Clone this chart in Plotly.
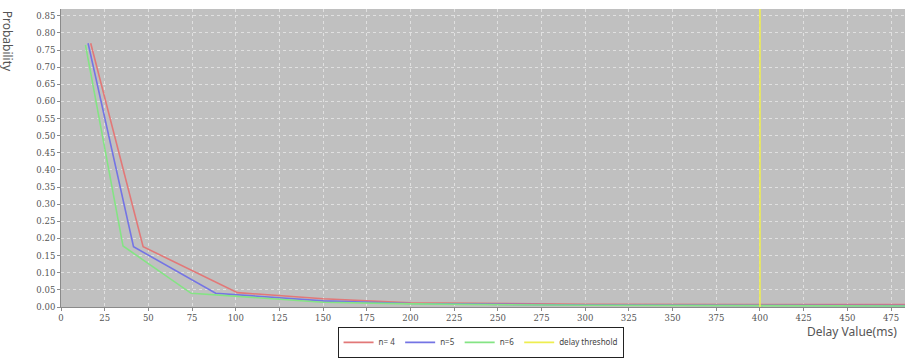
import plotly.graph_objects as go

# Delay values (ms) and probabilities for each group size n
delay_n4 = [17, 47, 101, 150, 200, 300, 483]
prob_n4 = [0.770, 0.176, 0.042, 0.024, 0.012, 0.008, 0.007]

delay_n5 = [15.5, 41.5, 88.5, 150, 200, 300, 483]
prob_n5 = [0.770, 0.176, 0.040, 0.018, 0.010, 0.006, 0.004]

delay_n6 = [14, 35.5, 74.5, 150, 200, 300, 483]
prob_n6 = [0.765, 0.178, 0.040, 0.014, 0.009, 0.005, 0.003]

threshold_x = [400, 400]
threshold_y = [0, 0.87]

series_names = ["n= 4", "n=5", "n=6", "delay threshold"]

x_ticks = list(range(0, 500, 25))
y_ticks = [round(i * 0.05, 2) for i in range(18)]

fig = go.Figure()
fig.add_trace(go.Scatter(x=delay_n4, y=prob_n4, mode="lines", name=series_names[0],
                         line=dict(color="#e27878", width=1.6)))
fig.add_trace(go.Scatter(x=delay_n5, y=prob_n5, mode="lines", name=series_names[1],
                         line=dict(color="#7474e4", width=1.6)))
fig.add_trace(go.Scatter(x=delay_n6, y=prob_n6, mode="lines", name=series_names[2],
                         line=dict(color="#84e484", width=1.6)))
fig.add_trace(go.Scatter(x=threshold_x, y=threshold_y, mode="lines", name=series_names[3],
                         line=dict(color="#eeee50", width=1.6)))

tick_font = dict(family="DejaVu Serif", size=8.5, color="#555555")

fig.update_layout(
    width=905, height=360,
    margin=dict(l=61, r=0, t=9, b=53, autoexpand=False),
    paper_bgcolor="white",
    plot_bgcolor="#c0c0c0",
    showlegend=True,
    legend=dict(
        orientation="h", xref="container", yref="container",
        x=0.531, xanchor="center", y=0.006, yanchor="bottom",
        bordercolor="#222222", borderwidth=1, bgcolor="white",
        font=dict(family="Noto Sans", size=8, color="#444444"),
        itemwidth=30, tracegroupgap=0,
    ),
    xaxis=dict(
        range=[0, 483], tickvals=x_ticks, ticktext=[str(v) for v in x_ticks],
        tickfont=tick_font, showgrid=True, gridcolor="#e0e0e0", griddash="dot",
        gridwidth=1, zeroline=False, showline=True, linecolor="#8a8a8a",
        ticks="outside", ticklen=3, tickcolor="#8a8a8a",
    ),
    yaxis=dict(
        range=[0, 0.87], tickvals=y_ticks, ticktext=[f"{v:.2f}" for v in y_ticks],
        tickfont=tick_font, showgrid=True, gridcolor="#e0e0e0", griddash="dot",
        gridwidth=1, zeroline=False, showline=True, linecolor="#8a8a8a",
        ticks="outside", ticklen=3, tickcolor="#8a8a8a",
    ),
    annotations=[
        dict(text="Delay Value(ms)", xref="paper", yref="paper", x=0.993, y=-0.048,
             xanchor="right", yanchor="top", showarrow=False,
             font=dict(family="Noto Sans", size=12, color="#555555")),
        dict(text="Probability", xref="paper", yref="paper", x=-0.063, y=1.0,
             xanchor="center", yanchor="top", showarrow=False, textangle=90,
             font=dict(family="Noto Sans", size=12, color="#555555")),
    ],
)

fig.write_html("out.html")
